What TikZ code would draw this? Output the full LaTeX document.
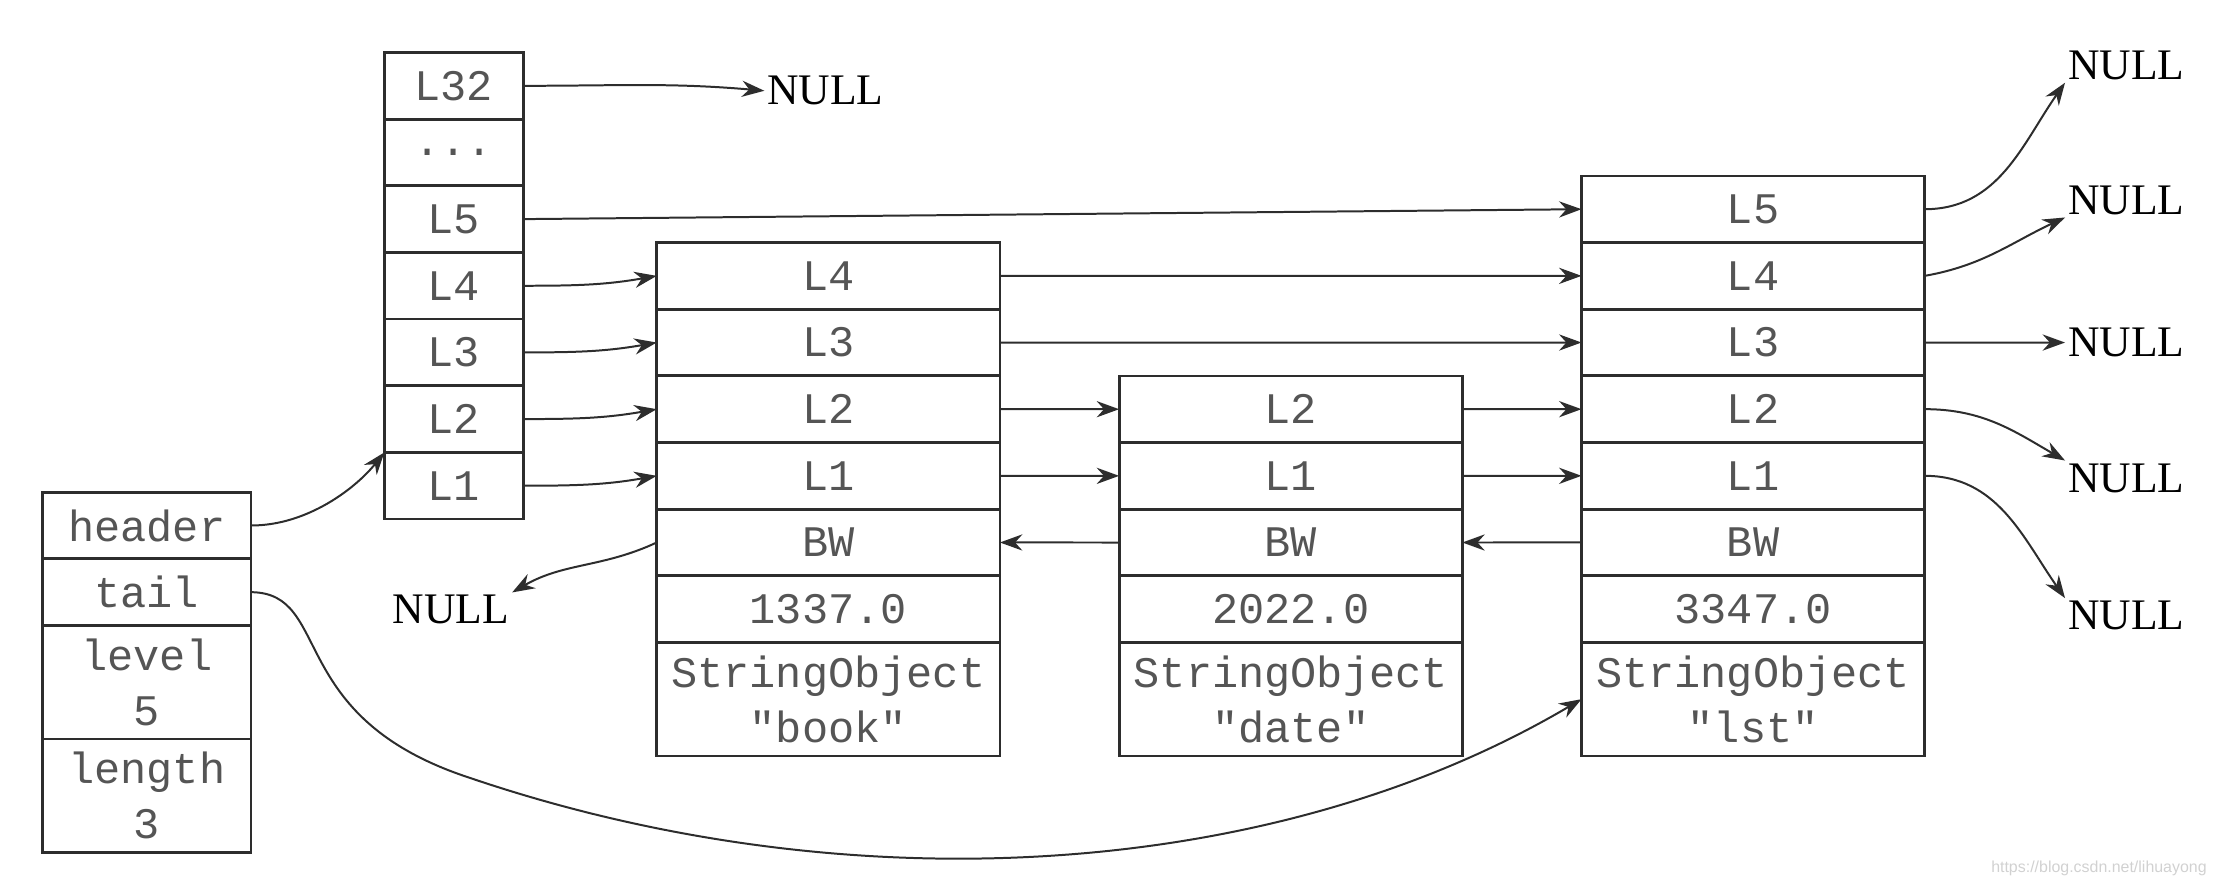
\documentclass[tikz,border=0pt]{standalone}
\usepackage{fontspec}
\setmainfont{Liberation Serif}
\setsansfont{Liberation Sans}
\setmonofont{Liberation Mono}
\usetikzlibrary{arrows.meta, positioning}
\definecolor{boxline}{RGB}{45,45,45}
\definecolor{celltext}{RGB}{85,85,85}

\begin{document}
\begin{tikzpicture}[x=0.02cm, y=0.02cm,
  cell/.style={draw=boxline, line width=1.1pt, outer sep=0pt, inner sep=0pt, minimum height=0.94cm, align=center, text=celltext, font=\fontsize{17.5}{22}\ttfamily},
  tallcell/.style={cell, minimum height=1.6cm},
  hdrcol/.style={minimum width=2.94cm},
  lvcol/.style={minimum width=1.96cm},
  ndcol/.style={minimum width=4.84cm},
  nul/.style={inner sep=1pt, font=\fontsize{17.5}{20}\selectfont},
  lnk/.style={draw=boxline, line width=0.8pt, -{Stealth[length=9pt, width=6.5pt]}}]
  \useasboundingbox (0,0) rectangle (1568,-622);

  % Skip list struct
  \node[cell, hdrcol] (hdr) at (103.5,-370.5) {header};
  \node[cell, hdrcol, below=0pt of hdr] (tl) {tail};
  \node[tallcell, hdrcol, below=0pt of tl] (lvl) {level\\5};
  \node[tallcell, hdrcol, below=0pt of lvl] (len) {length\\3};

  % Header node levels
  \node[cell, lvcol] (z32) at (320,-60.5) {L32};
  \node[cell, lvcol, below=0pt of z32] (zdots) {...};
  \node[cell, lvcol, below=0pt of zdots] (z5) {L5};
  \node[cell, lvcol, below=0pt of z5] (z4) {L4};
  \node[cell, lvcol, below=0pt of z4] (z3) {L3};
  \node[cell, lvcol, below=0pt of z3] (z2) {L2};
  \node[cell, lvcol, below=0pt of z2] (z1) {L1};

  % Node "book"
  \node[cell, ndcol] (b4) at (584,-194.5) {L4};
  \node[cell, ndcol, below=0pt of b4] (b3) {L3};
  \node[cell, ndcol, below=0pt of b3] (b2) {L2};
  \node[cell, ndcol, below=0pt of b2] (b1) {L1};
  \node[cell, ndcol, below=0pt of b1] (bbw) {BW};
  \node[cell, ndcol, below=0pt of bbw] (bsc) {1337.0};
  \node[tallcell, ndcol, below=0pt of bsc] (bobj) {StringObject\\"book"};

  % Node "date"
  \node[cell, ndcol] (d2) at (910,-288.5) {L2};
  \node[cell, ndcol, below=0pt of d2] (d1) {L1};
  \node[cell, ndcol, below=0pt of d1] (dbw) {BW};
  \node[cell, ndcol, below=0pt of dbw] (dsc) {2022.0};
  \node[tallcell, ndcol, below=0pt of dsc] (dobj) {StringObject\\"date"};

  % Node "lst"
  \node[cell, ndcol] (s5) at (1236,-147.5) {L5};
  \node[cell, ndcol, below=0pt of s5] (s4) {L4};
  \node[cell, ndcol, below=0pt of s4] (s3) {L3};
  \node[cell, ndcol, below=0pt of s3] (s2) {L2};
  \node[cell, ndcol, below=0pt of s2] (s1) {L1};
  \node[cell, ndcol, below=0pt of s1] (sbw) {BW};
  \node[cell, ndcol, below=0pt of sbw] (ssc) {3347.0};
  \node[tallcell, ndcol, below=0pt of ssc] (sobj) {StringObject\\"lst"};

  % NULL ends
  \node[nul] (n32) at (582,-64) {NULL};
  \node[nul] (nbw) at (318,-430) {NULL};
  \node[nul] (nr5) at (1499,-46) {NULL};
  \node[nul] (nr4) at (1499,-141) {NULL};
  \node[nul] (nr3) at (1499,-241.5) {NULL};
  \node[nul] (nr2) at (1499,-337) {NULL};
  \node[nul] (nr1) at (1499,-434) {NULL};

  % Forward links
  \draw[lnk] (hdr.east) .. controls +(40,0) and +(-20,-25) .. (z1.north west);
  \draw[lnk] (z32.east) to[out=0, in=175] (n32.west);
  \draw[lnk] (z5.east) -- (s5.west);
  \draw[lnk] (z4.east) to[out=0, in=190] (b4.west);
  \draw[lnk] (z3.east) to[out=0, in=190] (b3.west);
  \draw[lnk] (z2.east) to[out=0, in=190] (b2.west);
  \draw[lnk] (z1.east) to[out=0, in=190] (b1.west);
  \draw[lnk] (b4.east) -- (s4.west);
  \draw[lnk] (b3.east) -- (s3.west);
  \draw[lnk] (b2.east) -- (d2.west);
  \draw[lnk] (b1.east) -- (d1.west);
  \draw[lnk] (d2.east) -- (s2.west);
  \draw[lnk] (d1.east) -- (s1.west);
  \draw[lnk] (s5.east) to[out=0, in=235] (nr5.south west);
  \draw[lnk] (s4.east) to[out=10, in=205] (nr4.south west);
  \draw[lnk] (s3.east) -- (nr3.west);
  \draw[lnk] (s2.east) to[out=0, in=150] (nr2.north west);
  \draw[lnk] (s1.east) to[out=0, in=125] (nr1.north west);

  % Backward links
  \draw[lnk] (sbw.west) -- (dbw.east);
  \draw[lnk] (dbw.west) -- (bbw.east);
  \draw[lnk] (bbw.west) to[out=205, in=30] (nbw.north east);

  % Tail pointer
  \draw[lnk] (tl.east) .. controls (235,-418) and (200,-505) .. (330,-548)
    .. controls (600,-640) and (900,-620) .. (sobj.west);

  \node[anchor=east, text=black!18, font=\fontsize{6.4}{7}\sffamily] (wm) at (1562,-612) {https://blog.csdn.net/lihuayong};
\end{tikzpicture}
\end{document}
